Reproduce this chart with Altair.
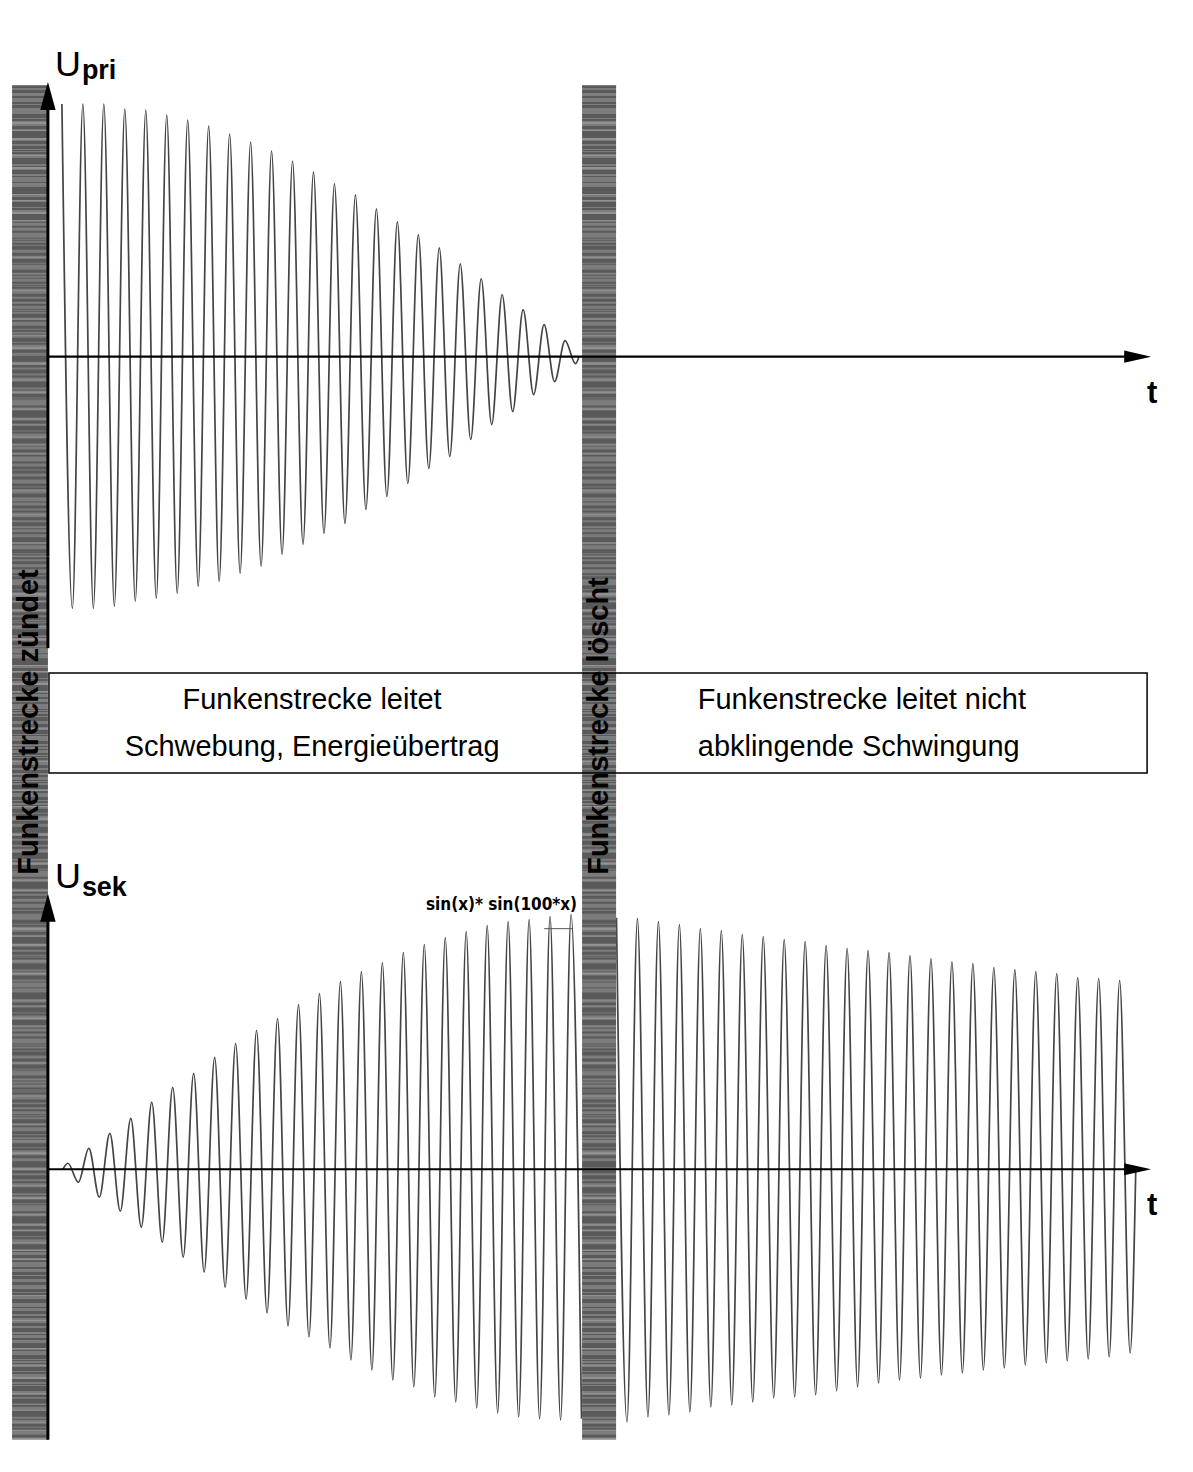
import altair as alt
import pandas as pd

# ---------------- values ----------------
# time in carrier periods, t = 0 where the spark gap fires; voltages in arbitrary units
HALF_PERIOD = 0.5

U_PRI_FIRST_T = 0.667
U_PRI_EXTREMA = [253, -252, 253, -252, 253, -250, 248, -245, 247, -242, 242, -237,
                 237, -230, 231, -225, 223, -217, 215, -210, 206, -198, 196, -188,
                 185, -177, 173, -167, 162, -153, 148, -140, 135, -127, 122, -112,
                 109, -100, 93, -83, 78, -68, 62, -55, 47, -38, 32, -25, 16, -7]
U_PRI_END = [25.33, 0]

U_SEK_A_START = [0.714, 0]
U_SEK_A_FIRST_T = 0.952
U_SEK_A_EXTREMA = [6, -13, 21, -28, 36, -42, 51, -58, 67, -73, 82, -88, 96, -103,
                   112, -118, 126, -130, 139, -144, 151, -157, 165, -168, 176, -179,
                   188, -191, 198, -201, 207, -211, 217, -218, 225, -228, 232, -233,
                   238, -239, 244, -244, 248, -248, 250, -250, 253, -251, 255, -250]

U_SEK_B_FIRST_T = 27.12
U_SEK_B_EXTREMA = [252, -253, 251, -248, 248, -246, 245, -243, 241, -238, 239, -236,
                   235, -233, 233, -229, 230, -228, 228, -226, 224, -222, 221, -218,
                   219, -214, 217, -211, 214, -209, 211, -206, 208, -204, 206, -201,
                   202, -199, 200, -196, 198, -194, 196, -192, 192, -190, 191, -188,
                   189, -184]
U_SEK_B_END = [51.89, 0]

GAP_NAMES = ["Funkenstrecke zündet", "Funkenstrecke löscht"]
GAP_START = [-1.71, 25.48]
GAP_END = [0.0, 27.10]

BOX_LEFT = ["Funkenstrecke leitet", "Schwebung, Energieübertrag"]
BOX_RIGHT = ["Funkenstrecke leitet nicht", "abklingende Schwingung"]
SINE_LABEL = "sin(x)* sin(100*x)"

# ---------------- layout ----------------
W = 1177
H_TOP, H_MID, H_BOT = 547, 335, 570
X_DOM = [-1.857, 54.19]
PX_PER_T = W / (X_DOM[1] - X_DOM[0])
Y_TOP_DOM = [-200, 347]
Y_BOT_DOM = [279 - H_BOT, 279]

FONT = "Liberation Sans, Arial, Helvetica, sans-serif"
NARROW = "Liberation Sans Narrow, Arial Narrow, DejaVu Sans Condensed, sans-serif"
ARROW_UP = "M0,-1L0.55,1L-0.55,1Z"
ARROW_RIGHT = "M1,0L-1,-0.45L-1,0.45Z"
WAVE_COLOR = "#444444"

xs = alt.Scale(domain=X_DOM, nice=False, zero=False)
ys_top = alt.Scale(domain=Y_TOP_DOM, nice=False, zero=False)
ys_bot = alt.Scale(domain=Y_BOT_DOM, nice=False, zero=False)
ys_mid = alt.Scale(domain=[0, H_MID], nice=False, zero=False, reverse=True)


def X(f):
    return alt.X(f"{f}:Q", scale=xs, axis=None)


def Y(f, sc):
    return alt.Y(f"{f}:Q", scale=sc, axis=None)


def wave(first_t, extrema, seg, start=None, end=None):
    rows = []
    if start:
        rows.append({"t": start[0], "u": start[1], "seg": seg})
    for k, v in enumerate(extrema):
        rows.append({"t": first_t + HALF_PERIOD * k, "u": v, "seg": seg})
    if end:
        rows.append({"t": end[0], "u": end[1], "seg": seg})
    return pd.DataFrame(rows)


def gap_layers(sc, hi, lo):
    df = pd.DataFrame({"name": GAP_NAMES, "t0": GAP_START, "t1": GAP_END})
    df["tc"] = (df["t0"] + df["t1"]) / 2
    df["w"] = (df["t1"] - df["t0"]) * PX_PER_T
    df["hi"] = hi
    df["lo"] = lo
    base = alt.Chart(df)
    rect = base.mark_rect(color="#7c7c7c").encode(
        x=X("t0"), x2="t1:Q", y=Y("hi", sc), y2="lo:Q")
    dark = base.mark_rule(
        color="#454545", opacity=0.6,
        strokeDash=[3, 2, 5, 1, 2, 4, 6, 2, 1, 3, 4, 1, 2, 5, 3, 2, 7, 3]).encode(
        x=X("tc"), y=Y("hi", sc), y2="lo:Q",
        strokeWidth=alt.StrokeWidth("w:Q", scale=None))
    light = base.mark_rule(
        color="#b0b0b0", opacity=0.45,
        strokeDash=[1, 7, 2, 9, 1, 5, 1, 11, 2, 6]).encode(
        x=X("tc"), y=Y("hi", sc), y2="lo:Q",
        strokeWidth=alt.StrokeWidth("w:Q", scale=None))
    return [rect, dark, light]


def vrule(sc, hi, lo):
    df = pd.DataFrame({"t": [0.0], "hi": [hi], "lo": [lo]})
    return alt.Chart(df).mark_rule(color="black", strokeWidth=3).encode(
        x=X("t"), y=Y("hi", sc), y2="lo:Q")


def arrow_up(sc, u):
    df = pd.DataFrame({"t": [0.0], "u": [u]})
    return alt.Chart(df).mark_point(shape=ARROW_UP, filled=True, color="black",
                                    opacity=1, size=784).encode(x=X("t"), y=Y("u", sc))


def time_axis(sc):
    df = pd.DataFrame({"t0": [0.0], "t1": [51.5], "u": [0]})
    line = alt.Chart(df).mark_rule(color="black", strokeWidth=2.2).encode(
        x=X("t0"), x2="t1:Q", y=Y("u", sc))
    adf = pd.DataFrame({"t": [51.98], "u": [0]})
    head = alt.Chart(adf).mark_point(shape=ARROW_RIGHT, filled=True, color="black",
                                     opacity=1, size=729).encode(x=X("t"), y=Y("u", sc))
    tdf = pd.DataFrame({"t": [52.67], "u": [-46], "label": ["t"]})
    tl = alt.Chart(tdf).mark_text(font=FONT, fontSize=31, fontWeight="bold",
                                  align="center", baseline="alphabetic",
                                  color="black").encode(x=X("t"), y=Y("u", sc), text="label:N")
    return [line, head, tl]


def u_label(sc, sub, u_main, u_sub):
    df1 = pd.DataFrame({"t": [0.333], "u": [u_main], "label": ["U"]})
    df2 = pd.DataFrame({"t": [1.62], "u": [u_sub], "label": [sub]})
    a = alt.Chart(df1).mark_text(font=FONT, fontSize=36, align="left",
                                 baseline="alphabetic", color="black").encode(
        x=X("t"), y=Y("u", sc), text="label:N")
    b = alt.Chart(df2).mark_text(font=FONT, fontSize=27, fontWeight="bold", align="left",
                                 baseline="alphabetic", color="black").encode(
        x=X("t"), y=Y("u", sc), text="label:N")
    return [a, b]


# ---------------- top panel: U_pri ----------------
pri = wave(U_PRI_FIRST_T, U_PRI_EXTREMA, "pri", end=U_PRI_END)
pri_line = alt.Chart(pri).mark_line(interpolate="monotone", color=WAVE_COLOR,
                                    strokeWidth=1.7).encode(x=X("t"), y=Y("u", ys_top))
top = alt.layer(
    pri_line,
    *gap_layers(ys_top, 272, Y_TOP_DOM[0]),
    vrule(ys_top, 250, Y_TOP_DOM[0]),
    arrow_up(ys_top, 261),
    *time_axis(ys_top),
    *u_label(ys_top, "pri", 281, 278),
).properties(width=W, height=H_TOP)

# ---------------- middle panel: text box ----------------
box_df = pd.DataFrame({"t0": [0.05], "t1": [52.43], "r0": [117], "r1": [217]})
box = alt.Chart(box_df).mark_rect(fillOpacity=0, stroke="black", strokeWidth=1.5).encode(
    x=X("t0"), x2="t1:Q", y=Y("r0", ys_mid), y2="r1:Q")
left_txt = pd.DataFrame({"t": [12.6, 12.6], "r": [153, 200], "label": BOX_LEFT})
right_txt = pd.DataFrame({"t": [31.0, 31.0], "r": [153, 200], "label": BOX_RIGHT})
lt = alt.Chart(left_txt).mark_text(font=FONT, fontSize=29, align="center",
                                   baseline="alphabetic", color="black").encode(
    x=X("t"), y=Y("r", ys_mid), text="label:N")
rt = alt.Chart(right_txt).mark_text(font=FONT, fontSize=29, align="left",
                                    baseline="alphabetic", color="black").encode(
    x=X("t"), y=Y("r", ys_mid), text="label:N")
gap_txt_df = pd.DataFrame({
    "t": [(GAP_START[0] + GAP_END[0]) / 2 - 0.04, (GAP_START[1] + GAP_END[1]) / 2],
    "r": [166, 170], "label": GAP_NAMES})
gap_txt = alt.Chart(gap_txt_df).mark_text(font=FONT, fontSize=29, fontWeight="bold",
                                          angle=270, align="center", baseline="middle",
                                          color="black").encode(
    x=X("t"), y=Y("r", ys_mid), text="label:N")
mid_rule_df = pd.DataFrame({"t": [0.0], "hi": [0], "lo": [92]})
mid_rule = alt.Chart(mid_rule_df).mark_rule(color="black", strokeWidth=3).encode(
    x=X("t"), y=Y("hi", ys_mid), y2="lo:Q")
mid = alt.layer(
    *gap_layers(ys_mid, 0, H_MID),
    mid_rule,
    box, lt, rt, gap_txt,
).properties(width=W, height=H_MID)

# ---------------- bottom panel: U_sek ----------------
sek = pd.concat([
    wave(U_SEK_A_FIRST_T, U_SEK_A_EXTREMA, "a", start=U_SEK_A_START),
    wave(U_SEK_B_FIRST_T, U_SEK_B_EXTREMA, "b", end=U_SEK_B_END),
], ignore_index=True)
sek_line = alt.Chart(sek).mark_line(interpolate="monotone", color=WAVE_COLOR,
                                    strokeWidth=1.7).encode(
    x=X("t"), y=Y("u", ys_bot), detail="seg:N")
sine_df = pd.DataFrame({"t": [25.24], "u": [260], "label": [SINE_LABEL]})
sine_lbl = alt.Chart(sine_df).mark_text(font=NARROW, fontSize=17, fontWeight="bold",
                                        align="right", baseline="alphabetic",
                                        color="black").encode(
    x=X("t"), y=Y("u", ys_bot), text="label:N")
period_df = pd.DataFrame({"t0": [23.67], "t1": [25.05], "u": [241]})
period_mark = alt.Chart(period_df).mark_rule(color="#555555", strokeWidth=1).encode(
    x=X("t0"), x2="t1:Q", y=Y("u", ys_bot))
bot = alt.layer(
    sek_line,
    *gap_layers(ys_bot, Y_BOT_DOM[1], -271),
    vrule(ys_bot, 250, -271),
    arrow_up(ys_bot, 262),
    *time_axis(ys_bot),
    *u_label(ys_bot, "sek", 282, 274),
    sine_lbl, period_mark,
).properties(width=W, height=H_BOT)

chart = alt.vconcat(top, mid, bot, spacing=0, bounds="flush").properties(
    padding=0, background="white"
).configure_view(stroke="transparent")

chart.save("out.html", embed_options={"renderer": "svg", "actions": False})
